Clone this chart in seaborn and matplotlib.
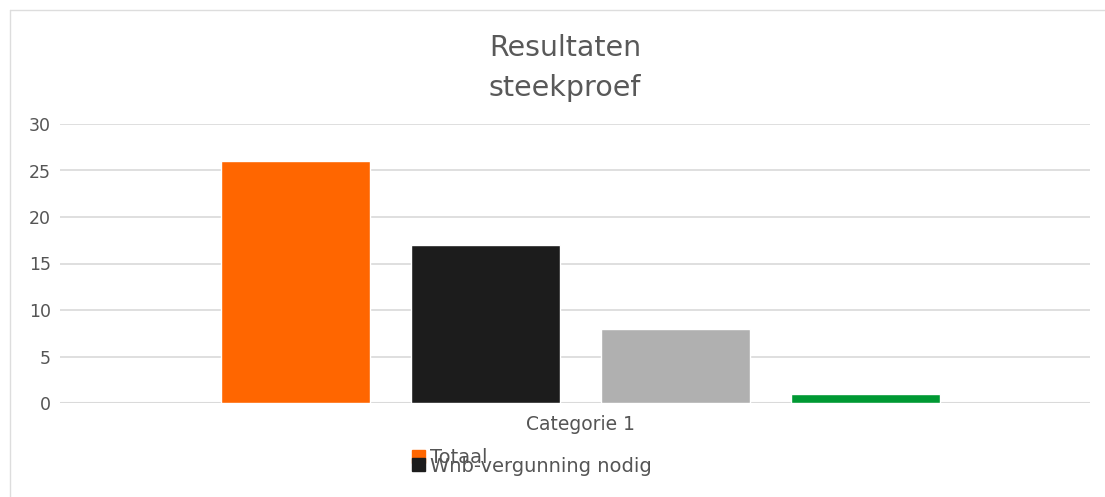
import numpy as np
import pandas as pd
import matplotlib
matplotlib.use("Agg")
import matplotlib.pyplot as plt
import seaborn as sns
from matplotlib.lines import Line2D
from matplotlib.patches import Patch

# data
category = ["Categorie 1"]
series = ["Totaal", "Wnb-vergunning nodig", "Reeks 3", "Reeks 4"]
values = [26, 17, 8, 1]
colors = ["#FF6600", "#1C1C1C", "#B0B0B0", "#009933"]
yticks = [0, 5, 10, 15, 20, 25, 30]

sns.set_theme(style="white")
plt.rcParams["font.family"] = ["DejaVu Sans"]

df = pd.DataFrame({"cat": category * len(series), "serie": series, "val": values})

fig = plt.figure(figsize=(11.05, 4.97), dpi=100)
ax = fig.add_axes([60 / 1105, (497 - 403) / 497, 1030 / 1105, (403 - 124) / 497])

sns.barplot(data=df, x="cat", y="val", hue="serie", palette=colors, width=0.738,
            gap=0.215, legend=False, ax=ax, saturation=1)

ax.set_xlim(-0.505, 0.495)
ax.set_ylim(0, 30)
ax.set_yticks(yticks)
ax.yaxis.grid(True, color="#DCDCDC", lw=1.3)
ax.axhline(0, color="#D0D0D0", lw=2.2, zorder=0.5)
ax.set_axisbelow(True)
for s in ax.spines.values():
    s.set_visible(False)
ax.tick_params(axis="both", length=0, labelsize=12.5, labelcolor="#555555")
ax.tick_params(axis="y", pad=6.5)
ax.tick_params(axis="x", pad=9)
ax.tick_params(axis="x", labelsize=13.5)
ax.set_xlabel("")
ax.set_ylabel("")

fig.text(565 / 1105, 1 - 48 / 497, "Resultaten", ha="center", va="center",
         fontsize=20.5, color="#595959")
fig.text(565 / 1105, 1 - 88 / 497, "steekproef", ha="center", va="center",
         fontsize=20.5, color="#595959")

# legend, entries overlapping as in the original
handles = [Patch(color=colors[0]), Patch(color=colors[1])]
leg = fig.legend(handles, series[:2], loc="center left",
                 bbox_to_anchor=(412 / 1105, 1 - 462 / 497), frameon=False,
                 fontsize=14, labelcolor="#555555", labelspacing=-0.55,
                 handlelength=0.65, handleheight=0.65, handletextpad=0.3,
                 borderpad=0, borderaxespad=0)

# light frame on top and left
fig.add_artist(Line2D([10 / 1105, 10 / 1105], [0, 1 - 10 / 497],
                      transform=fig.transFigure, color="#DDDDDD", lw=1))
fig.add_artist(Line2D([10 / 1105, 1], [1 - 10 / 497, 1 - 10 / 497],
                      transform=fig.transFigure, color="#DDDDDD", lw=1))

fig.savefig("out.png", dpi=100)
